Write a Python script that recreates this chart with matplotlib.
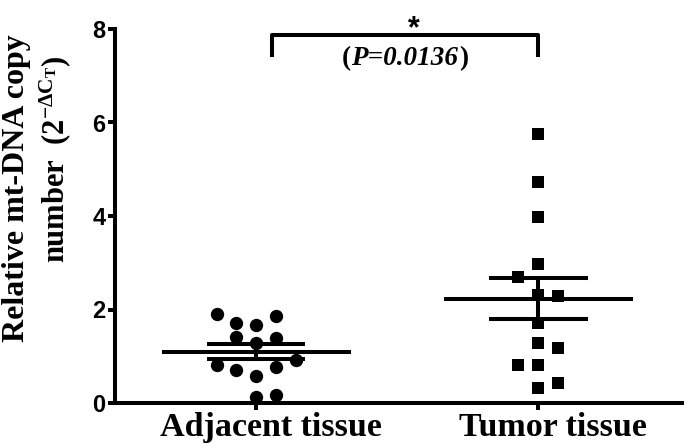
import numpy as np
import matplotlib
matplotlib.use("Agg")
import matplotlib.pyplot as plt
from matplotlib.transforms import ScaledTranslation, blended_transform_factory

# ---- data ----
categories = ["Adjacent tissue", "Tumor tissue"]
adjacent_values = [1.90, 1.71, 1.67, 1.86, 1.41, 1.28, 1.39, 0.81, 0.71, 0.58, 0.77, 0.92, 0.13, 0.17]
tumor_values = [5.75, 4.73, 3.98, 2.97, 2.70, 2.31, 2.29, 1.71, 1.28, 1.18, 0.81, 0.81, 0.43, 0.32]
y_ticks = [0, 2, 4, 6, 8]
p_label = "0.0136"

# ---- layout (scatter column offsets) ----
adjacent_cols = [-2, -1, 0, 1, -1, 0, 1, -2, -1, 0, 1, 2, 0, 1]
tumor_cols = [0, 0, 0, 0, -1, 0, 1, 0, 0, 1, -1, 0, 1, 0]
col_step = 0.07

plt.rcParams['mathtext.fontset'] = 'custom'
plt.rcParams['mathtext.rm'] = 'Liberation Serif:bold'
plt.rcParams['mathtext.it'] = 'Liberation Serif:italic:bold'
plt.rcParams['mathtext.bf'] = 'Liberation Serif:bold'

fig = plt.figure(figsize=(6.88, 4.48), dpi=100)
ax = fig.add_axes([115/688, 1-403/448, (682-115)/688, 374/448])

lw = 2.9
groups = [(adjacent_values, adjacent_cols, 'o'), (tumor_values, tumor_cols, 's')]
for i, (vals, cols, mk) in enumerate(groups):
    xc = i + 1
    v = np.array(vals)
    xs = xc + np.array(cols) * col_step
    ax.scatter(xs, v, marker=mk, s=(9.6 if mk == 'o' else 9.0) ** 2, color='black',
               linewidths=0, zorder=3, clip_on=False)
    m = v.mean()
    sem = v.std(ddof=1) / np.sqrt(len(v))
    ax.plot([xc - 0.335, xc + 0.335], [m, m], color='black', lw=lw, zorder=4, solid_capstyle='butt')
    ax.plot([xc - 0.175, xc + 0.175], [m + sem, m + sem], color='black', lw=lw, zorder=4, solid_capstyle='butt')
    ax.plot([xc - 0.175, xc + 0.175], [m - sem, m - sem], color='black', lw=lw, zorder=4, solid_capstyle='butt')
    ax.plot([xc, xc], [m - sem, m + sem], color='black', lw=lw, zorder=4)

ax.set_xlim(0.5, 2.51)
ax.set_ylim(0, 8)
ax.set_yticks(y_ticks)
ax.set_yticklabels([str(t) for t in y_ticks], fontfamily='Liberation Sans', fontweight='bold', fontsize=17)
ax.set_xticks([1, 2])
ax.set_xticklabels([])
trans = blended_transform_factory(ax.transData, ax.transAxes) + ScaledTranslation(0.15, -0.085, fig.dpi_scale_trans)
for i, cat in enumerate(categories):
    ax.text(i + 1, 0, cat, transform=trans, ha='center', va='top', fontfamily='Liberation Serif',
            fontweight='bold', fontsize=24.5)

for s in ['top', 'right']:
    ax.spines[s].set_visible(False)
for s in ['left', 'bottom']:
    ax.spines[s].set_linewidth(lw)
ax.tick_params(axis='both', width=lw, length=5, pad=2, direction='out')

# significance bracket
bx0, bx1, by0, by1 = 1.057, 2.0, 7.44, 7.87
ax.plot([bx0, bx0, bx1, bx1], [by0, by1, by1, by0], color='black', lw=lw, clip_on=False)
ax.text(1.56, 8.0, '*', ha='center', va='center', fontsize=22, fontweight='bold',
        fontfamily='Liberation Sans', clip_on=False)
ptxt = ax.text(1.525, 7.36, 'P=' + p_label, ha='center', va='center', fontsize=19.5,
               fontfamily='Liberation Serif', fontweight='bold', fontstyle='italic')
ax.annotate('(', xy=(0, 0.5), xycoords=ptxt, ha='right', va='center', fontsize=19.5,
            fontfamily='Liberation Serif', fontweight='bold')
ax.annotate(')', xy=(1, 0.5), xycoords=ptxt, xytext=(1, 0), textcoords='offset points',
            ha='left', va='center', fontsize=19.5, fontfamily='Liberation Serif', fontweight='bold')

# y label
fig.text(17/688, 1-188/448, 'Relative mt-DNA copy', rotation=90, ha='center', va='center',
         fontsize=23, fontfamily='Liberation Serif', fontweight='bold')
fig.text(55/688, 1-159/448, r'number  (2$^{\mathrm{-}\Delta \mathrm{C}_{\mathrm{T}}}$)', rotation=90,
         ha='center', va='center', fontsize=22, fontfamily='Liberation Serif', fontweight='bold')

fig.savefig('out.png', dpi=100)
